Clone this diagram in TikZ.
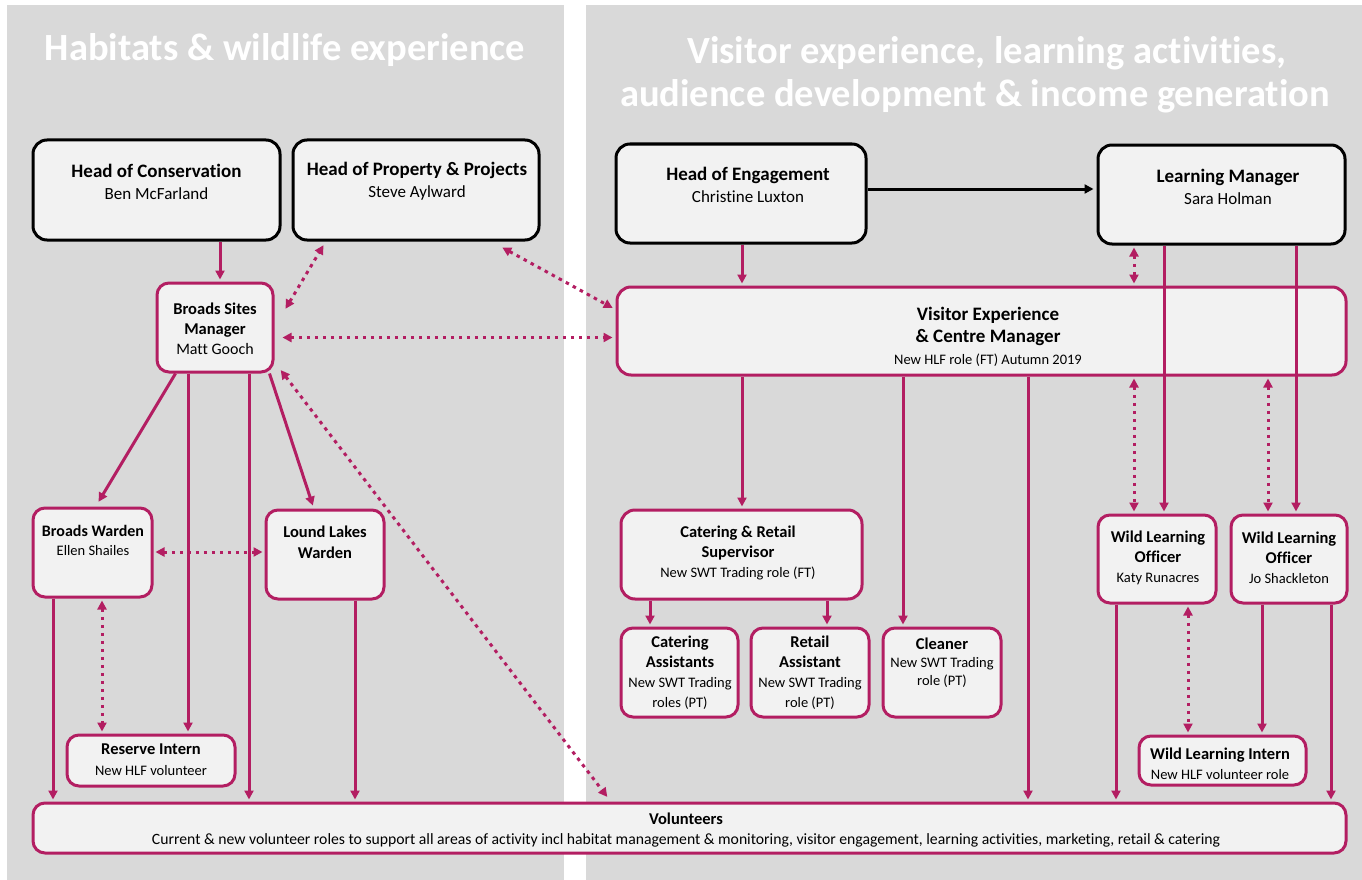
\documentclass[tikz,border=0pt]{standalone}
\usepackage{fontspec}
\setmainfont{Carlito}[Ligatures=NoCommon]
\usetikzlibrary{arrows.meta,calc}
\definecolor{panelgray}{HTML}{D9D9D9}
\definecolor{boxfill}{HTML}{F2F2F2}
\definecolor{mag}{HTML}{B31E62}
\newcommand\nmf{\fontsize{14.5}{21}\selectfont\mdseries}
\newcommand\bignm{\fontsize{17}{22}\selectfont\mdseries}
\begin{document}
\begin{tikzpicture}[x=1pt,y=-1pt,
  blackbox/.style={draw=black, line width=3pt, fill=boxfill, rounded corners=14pt, inner sep=0pt},
  magbox/.style={draw=mag, line width=3pt, fill=boxfill, rounded corners=12pt, inner sep=0pt},
  txt/.style={align=center, inner sep=0pt, text=black},
  ttl/.style={inner sep=0pt, text=white, font=\fontsize{38.5}{44}\selectfont\bfseries, anchor=base},
  arr/.style={draw=mag, line width=3pt, -{Triangle[length=9pt,width=9pt]}, shorten >=2pt},
  darr/.style={draw=mag, line width=3pt, dash pattern=on 3.5pt off 4.5pt, {Triangle[length=9pt,width=9pt]}-{Triangle[length=9pt,width=9pt]}, shorten >=2pt, shorten <=2pt},
  barr/.style={draw=black, line width=3pt, -{Triangle[length=9pt,width=9pt]}, shorten >=3pt}
]
\useasboundingbox (0,0) rectangle (1362,880);
\fill[white] (0,0) rectangle (1362,880);
\fill[panelgray] (7,5) rectangle (564,880);
\fill[panelgray] (586,5) rectangle (1362,880);

% titles
\node[ttl] (t1) at (285,61) {Habitats \& wildlife experience};
\node[ttl] (t2) at (987,64) {Visitor experience, learning activities,};
\node[ttl] (t3) at (975,107) {audience development \& income generation};

% boxes
\node[blackbox, minimum width=247pt, minimum height=100pt] (hc) at (156.5,190) {};
\node[blackbox, minimum width=246pt, minimum height=100pt] (hpp) at (416,190) {};
\node[blackbox, minimum width=250pt, minimum height=99pt] (hoe) at (741,193.5) {};
\node[blackbox, minimum width=247pt, minimum height=99pt] (lm) at (1221.5,194.5) {};
\node[magbox, minimum width=116pt, minimum height=89pt] (bsm) at (215,327.5) {};
\node[magbox, minimum width=729pt, minimum height=88pt, rounded corners=14pt] (vec) at (981.5,331) {};
\node[magbox, minimum width=119pt, minimum height=89pt] (bw) at (92.5,552.5) {};
\node[magbox, minimum width=118pt, minimum height=89pt] (ll) at (325,554.5) {};
\node[magbox, minimum width=168pt, minimum height=51pt] (ri) at (151,760.5) {};
\node[magbox, minimum width=241pt, minimum height=89pt, rounded corners=14pt] (crs) at (741.5,554.5) {};
\node[magbox, minimum width=117pt, minimum height=89pt] (ca) at (679.5,672.5) {};
\node[magbox, minimum width=118pt, minimum height=89pt] (ra) at (810,672.5) {};
\node[magbox, minimum width=118pt, minimum height=89pt] (cl) at (942,672.5) {};
\node[magbox, minimum width=118pt, minimum height=88pt] (wlo1) at (1157,559) {};
\node[magbox, minimum width=116pt, minimum height=88pt] (wlo2) at (1289,559) {};
\node[magbox, minimum width=167pt, minimum height=49pt] (wli) at (1222.5,760.5) {};
\node[magbox, minimum width=1313pt, minimum height=50pt] (vol) at (689.5,828) {};

% texts
\node[txt, font=\fontsize{19}{22}\selectfont\bfseries] (hc-t) at (156.5,181.5) {Head of Conservation\\{\bignm Ben McFarland}};
\node[txt, font=\fontsize{19}{22}\selectfont\bfseries] (hpp-t) at (417,181.5) {Head of Property \& Projects\\{\bignm Steve Aylward}};
\node[txt, font=\fontsize{19}{22}\selectfont\bfseries] (hoe-t) at (748,184.5) {Head of Engagement\\{\bignm Christine Luxton}};
\node[txt, font=\fontsize{19}{22}\selectfont\bfseries] (lm-t) at (1228,186.5) {Learning Manager\\{\bignm Sara Holman}};
\node[txt, font=\fontsize{16.5}{20}\selectfont\bfseries] (bsm-t) at (215,328.5) {Broads Sites\\Manager\\{\fontsize{16}{20}\selectfont\mdseries Matt Gooch}};
\node[txt, font=\fontsize{19}{22}\selectfont\bfseries] (vec-t) at (988,337) {Visitor Experience\\\& Centre Manager\\{\fontsize{14.5}{19}\selectfont\mdseries New HLF role (FT) Autumn 2019}};
\node[txt, font=\fontsize{16}{19}\selectfont\bfseries] (bw-t) at (93,540.5) {Broads Warden\\{\nmf Ellen Shailes}};
\node[txt, font=\fontsize{16.5}{21}\selectfont\bfseries] (ll-t) at (325,542) {Lound Lakes\\Warden};
\node[txt, font=\fontsize{16.5}{21}\selectfont\bfseries] (ri-t) at (151,760) {Reserve Intern\\{\nmf New HLF volunteer}};
\node[txt, font=\fontsize{16.5}{20}\selectfont\bfseries] (crs-t) at (738,553) {Catering \& Retail\\Supervisor\\{\fontsize{14.5}{18.5}\selectfont\mdseries New SWT Trading role (FT)}};
\node[txt, font=\fontsize{16.5}{20}\selectfont\bfseries] (ca-t) at (680,673) {Catering\\Assistants\\{\fontsize{14.5}{18}\selectfont\mdseries New SWT Trading}\\{\fontsize{14.5}{18}\selectfont\mdseries roles (PT)}};
\node[txt, font=\fontsize{16.5}{20}\selectfont\bfseries] (ra-t) at (810,673) {Retail\\Assistant\\{\fontsize{14.5}{18}\selectfont\mdseries New SWT Trading}\\{\fontsize{14.5}{18}\selectfont\mdseries role (PT)}};
\node[txt, font=\fontsize{16.5}{18}\selectfont\bfseries] (cl-t) at (942,662.5) {Cleaner\\{\fontsize{14.5}{18}\selectfont\mdseries New SWT Trading}\\{\fontsize{14.5}{18}\selectfont\mdseries role (PT)}};
\node[txt, font=\fontsize{16.5}{20}\selectfont\bfseries] (wlo1-t) at (1158,558) {Wild Learning\\Officer\\{\nmf Katy Runacres}};
\node[txt, font=\fontsize{16.5}{20}\selectfont\bfseries] (wlo2-t) at (1289,558) {Wild Learning\\Officer\\{\nmf Jo Shackleton}};
\node[txt, font=\fontsize{16.5}{20}\selectfont\bfseries] (wli-t) at (1220,763.5) {Wild Learning Intern\\{\nmf New HLF volunteer role}};
\node[txt, font=\fontsize{16.5}{20}\selectfont\bfseries] (vol-t) at (686,830.5) {Volunteers\\{\fontsize{15.7}{20}\selectfont\mdseries Current \& new volunteer roles to support all areas of activity incl habitat management \& monitoring, visitor engagement, learning activities, marketing, retail \& catering}};

% solid connectors
\draw[arr] (220,0 |- hc.south) -- (220,0 |- bsm.north);
\draw[arr] ($(bsm.south west)+(20,0)$) -- ($(bw.north west)+(66,-3)$);
\draw[arr] ($(bsm.south east)+(-5,0)$) -- ($(ll.north west)+(49,-1)$);
\draw[arr] (188,0 |- bsm.south) -- (188,0 |- ri.north);
\draw[arr] (249,0 |- bsm.south) -- (249,0 |- vol.north);
\draw[arr] (53,0 |- bw.south) -- (53,0 |- vol.north);
\draw[arr] (355,0 |- ll.south) -- (355,0 |- vol.north);
\draw[arr] (742,0 |- hoe.south) -- (742,0 |- vec.north);
\draw[arr] (1164,0 |- lm.south) -- (1164,0 |- wlo1.north);
\draw[arr] (1296,0 |- lm.south) -- (1296,0 |- wlo2.north);
\draw[arr] (742,0 |- vec.south) -- (742,0 |- crs.north);
\draw[arr] (903,0 |- vec.south) -- (903,0 |- cl.north);
\draw[arr] (1028,0 |- vec.south) -- (1028,0 |- vol.north);
\draw[arr] (650,0 |- crs.south) -- (650,0 |- ca.north);
\draw[arr] (827,0 |- crs.south) -- (827,0 |- ra.north);
\draw[arr] (1116,0 |- wlo1.south) -- (1116,0 |- vol.north);
\draw[arr] (1262,0 |- wlo2.south) -- (1262,0 |- wli.north);
\draw[arr] (1331,0 |- wlo2.south) -- (1331,0 |- vol.north);
\draw[barr] (hoe.east |- 0,189) -- (lm.west |- 0,189);

% dotted connectors
\draw[darr] ($(bsm.north east)+(10,29)$) -- ($(hpp.south west)+(33,2)$);
\draw[darr] ($(hpp.south east)+(-40,5)$) -- ($(vec.west)+(-1,-22)$);
\draw[darr] ($(bsm.east)+(6,10)$) -- ($(vec.west)+(-1,6.5)$);
\draw[darr] ($(bsm.south east)+(5,-5)$) -- ($(vol.north west)+(577,-3)$);
\draw[darr] (bw.east |- 0,552) -- (ll.west |- 0,552);
\draw[darr] (102,0 |- bw.south) -- (102,0 |- ri.north);
\draw[darr] (1134,0 |- lm.south) -- (1134,0 |- vec.north);
\draw[darr] (1134,0 |- vec.south) -- (1134,0 |- wlo1.north);
\draw[darr] (1268,0 |- vec.south) -- (1268,0 |- wlo2.north);
\draw[darr] (1188,0 |- wlo1.south) -- (1188,0 |- wli.north);
\end{tikzpicture}
\end{document}
